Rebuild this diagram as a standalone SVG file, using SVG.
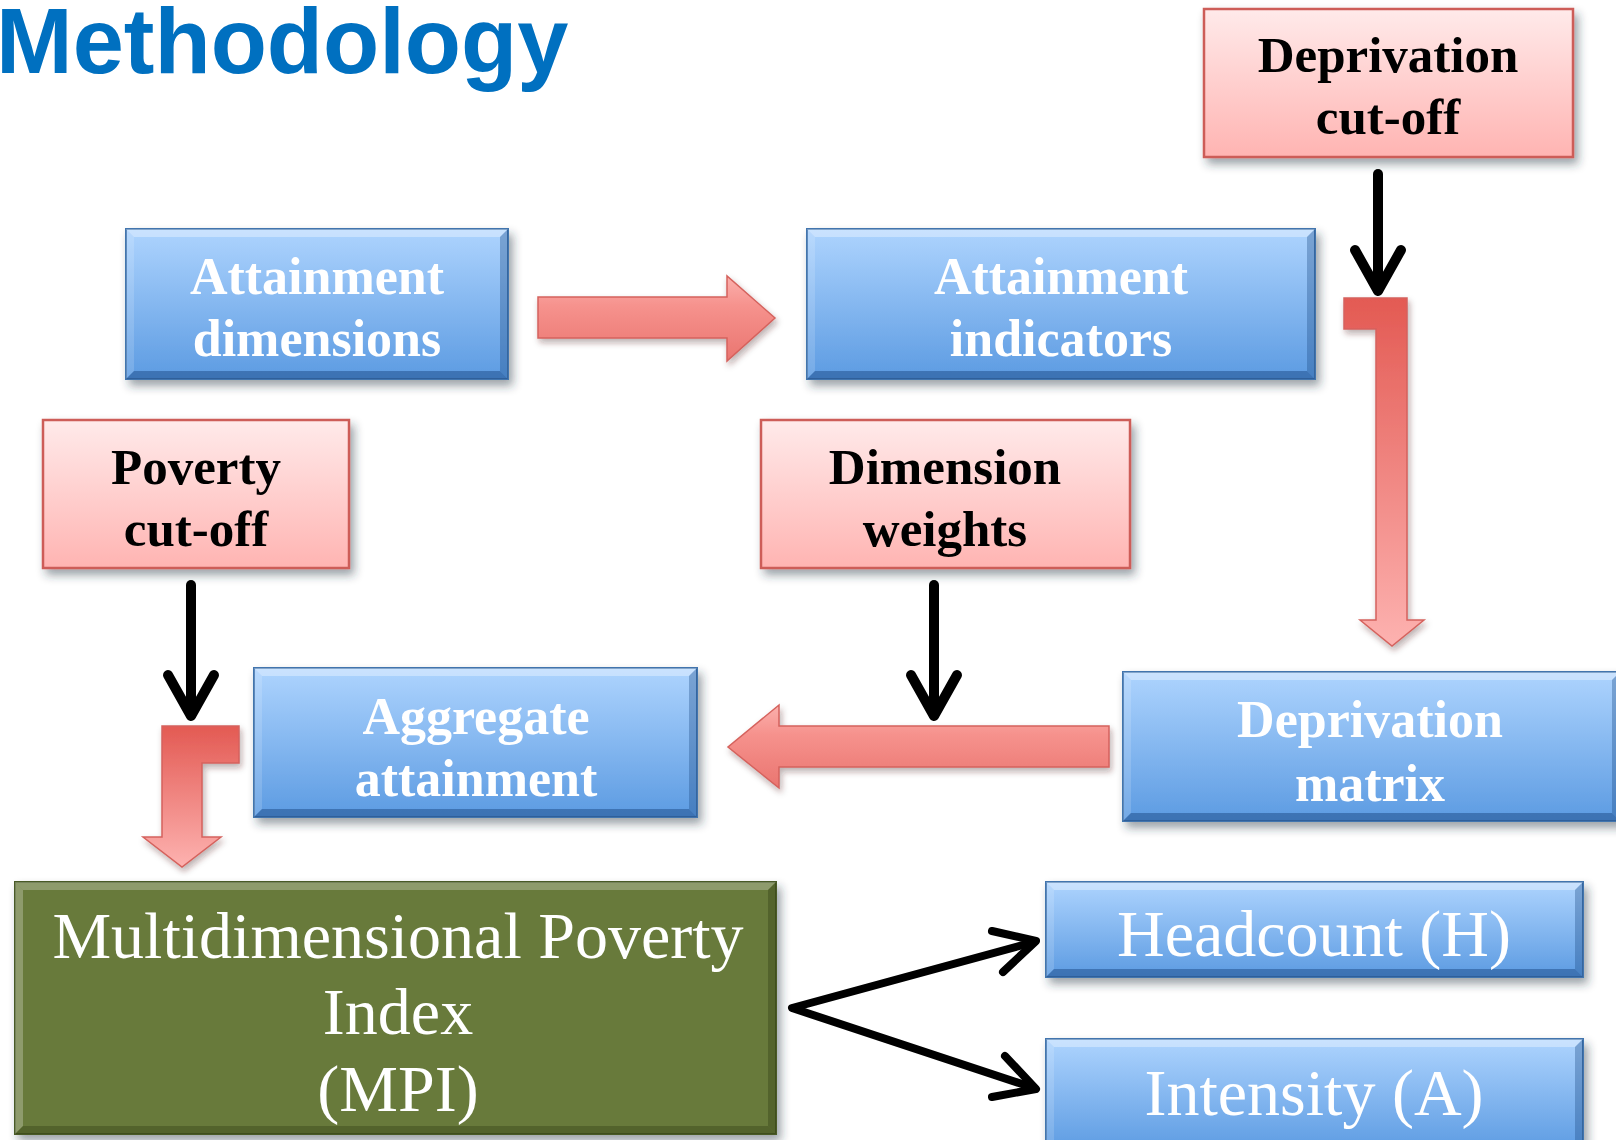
<svg xmlns="http://www.w3.org/2000/svg" width="1616" height="1140" viewBox="0 0 1616 1140">
<defs>
<filter id="sh" x="-10%" y="-10%" width="125%" height="130%">
<feDropShadow dx="4" dy="6" stdDeviation="5" flood-color="#203040" flood-opacity="0.45"/>
</filter>
<filter id="sha" x="-10%" y="-10%" width="125%" height="130%">
<feDropShadow dx="2" dy="4" stdDeviation="3" flood-color="#402020" flood-opacity="0.35"/>
</filter>
<linearGradient id="blueG" x1="0" y1="0" x2="0" y2="1">
<stop offset="0" stop-color="#AED4FE"/>
<stop offset="1" stop-color="#5C9BE2"/>
</linearGradient>
<linearGradient id="pinkG" x1="0" y1="0" x2="0" y2="1">
<stop offset="0" stop-color="#FFEAEA"/>
<stop offset="1" stop-color="#FFB4B2"/>
</linearGradient>
<linearGradient id="redV" x1="0" y1="0" x2="0" y2="1">
<stop offset="0" stop-color="#E35A53"/>
<stop offset="1" stop-color="#FDB2B0"/>
</linearGradient>
<linearGradient id="redH" x1="0" y1="0" x2="0" y2="1">
<stop offset="0" stop-color="#FBB0AD"/>
<stop offset="0.35" stop-color="#F6928D"/>
<stop offset="1" stop-color="#EA7570"/>
</linearGradient>
</defs>
<style>
.blue{fill:url(#blueG);stroke:#4374AE;stroke-width:2}
.pink{fill:url(#pinkG);stroke:#CD5D59;stroke-width:2.5}
.green{fill:#677A3A;stroke:#4A5A28;stroke-width:2}
.hi{fill:#FFFFFF;opacity:0.35}
.hl{fill:#FFFFFF;opacity:0.15}
.dk{fill:#1C4A85;opacity:0.35}
.db{fill:#1C4A85;opacity:0.5}
.gdk{fill:#2E3A12;opacity:0.35}
.ghi{fill:#FFFFFF;opacity:0.25}
.wt{font-family:"Liberation Serif",serif;font-weight:bold;font-size:52px;fill:#FFFFFF;text-anchor:middle}
.bt{font-family:"Liberation Serif",serif;font-weight:bold;font-size:51px;fill:#000000;text-anchor:middle}
.wr{font-family:"Liberation Serif",serif;font-size:66px;fill:#FFFFFF;text-anchor:middle}
.blk{fill:none;stroke:#000000;stroke-width:10;stroke-linecap:round;stroke-linejoin:round}
.blk2{fill:none;stroke:#000000;stroke-width:8;stroke-linecap:round;stroke-linejoin:round}
.ra{stroke:#D5625D;stroke-width:1.5;filter:url(#sha)}
</style>
<rect x="0" y="0" width="1616" height="1140" fill="#FFFFFF"/>
<text x="-4" y="73" font-family="Liberation Sans, Arial, sans-serif" font-weight="bold" font-size="92" fill="#0070C0">Methodology</text>

<g id="deprivation-cutoff" transform="translate(1204,9)">
<rect class="pink" width="369" height="148" filter="url(#sh)"/>
<text class="bt" x="184" y="63">Deprivation</text>
<text class="bt" x="184" y="125">cut-off</text>
</g>

<g id="attainment-dimensions" transform="translate(126,229)">
<rect class="blue" width="382" height="150" filter="url(#sh)"/>
<polygon class="hi" points="0,0 382,0 374,8 8,8"/>
<polygon class="hl" points="0,0 8,8 8,142 0,150"/>
<polygon class="dk" points="382,0 382,150 374,142 374,8"/>
<polygon class="db" points="0,150 382,150 374,142 8,142"/>
<text class="wt" x="191" y="65">Attainment</text>
<text class="wt" x="191" y="127">dimensions</text>
</g>

<g id="attainment-indicators" transform="translate(807,229)">
<rect class="blue" width="508" height="150" filter="url(#sh)"/>
<polygon class="hi" points="0,0 508,0 500,8 8,8"/>
<polygon class="hl" points="0,0 8,8 8,142 0,150"/>
<polygon class="dk" points="508,0 508,150 500,142 500,8"/>
<polygon class="db" points="0,150 508,150 500,142 8,142"/>
<text class="wt" x="254" y="65">Attainment</text>
<text class="wt" x="254" y="127">indicators</text>
</g>

<g id="poverty-cutoff" transform="translate(43,420)">
<rect class="pink" width="306" height="148" filter="url(#sh)"/>
<text class="bt" x="153" y="64">Poverty</text>
<text class="bt" x="153" y="126">cut-off</text>
</g>

<g id="dimension-weights" transform="translate(761,420)">
<rect class="pink" width="369" height="148" filter="url(#sh)"/>
<text class="bt" x="184" y="64">Dimension</text>
<text class="bt" x="184" y="126">weights</text>
</g>

<g id="aggregate-attainment" transform="translate(254,668)">
<rect class="blue" width="443" height="149" filter="url(#sh)"/>
<polygon class="hi" points="0,0 443,0 435,8 8,8"/>
<polygon class="hl" points="0,0 8,8 8,141 0,149"/>
<polygon class="dk" points="443,0 443,149 435,141 435,8"/>
<polygon class="db" points="0,149 443,149 435,141 8,141"/>
<text class="wt" x="222" y="66">Aggregate</text>
<text class="wt" x="222" y="128">attainment</text>
</g>

<g id="deprivation-matrix" transform="translate(1123,672)">
<rect class="blue" width="497" height="149" filter="url(#sh)"/>
<polygon class="hi" points="0,0 497,0 489,8 8,8"/>
<polygon class="hl" points="0,0 8,8 8,141 0,149"/>
<polygon class="dk" points="497,0 497,149 489,141 489,8"/>
<polygon class="db" points="0,149 497,149 489,141 8,141"/>
<text class="wt" x="247" y="65">Deprivation</text>
<text class="wt" x="247" y="129">matrix</text>
</g>

<g id="mpi" transform="translate(15,882)">
<rect class="green" width="761" height="252" filter="url(#sh)"/>
<polygon class="ghi" points="0,0 761,0 753,8 8,8"/>
<polygon class="ghi" points="0,0 8,8 8,244 0,252" opacity="0.1"/>
<polygon class="gdk" points="761,0 761,252 753,244 753,8"/>
<polygon class="gdk" points="0,252 761,252 753,244 8,244"/>
<text class="wr" x="383" y="76">Multidimensional Poverty</text>
<text class="wr" x="383" y="152">Index</text>
<text class="wr" x="383" y="229">(MPI)</text>
</g>

<g id="headcount" transform="translate(1046,882)">
<rect class="blue" width="537" height="95" filter="url(#sh)"/>
<polygon class="hi" points="0,0 537,0 529,8 8,8"/>
<polygon class="hl" points="0,0 8,8 8,87 0,95"/>
<polygon class="dk" points="537,0 537,95 529,87 529,8"/>
<polygon class="db" points="0,95 537,95 529,87 8,87"/>
<text class="wr" x="268" y="74">Headcount (H)</text>
</g>

<g id="intensity" transform="translate(1046,1039)">
<rect class="blue" width="537" height="112" filter="url(#sh)"/>
<polygon class="hi" points="0,0 537,0 529,8 8,8"/>
<polygon class="hl" points="0,0 8,8 8,104 0,112"/>
<polygon class="dk" points="537,0 537,112 529,104 529,8"/>
<text class="wr" x="268" y="76">Intensity (A)</text>
</g>

<g id="connectors">
<polygon class="ra" fill="url(#redH)" points="538,297 727,297 727,276 775,318 727,361 727,338 538,338"/>
<polygon class="ra" fill="url(#redH)" points="1109,726 779,726 779,705 728,747 779,788 779,767 1109,767"/>
<polygon class="ra" fill="url(#redV)" points="1344,298 1407,298 1407,620 1424,620 1392,646 1360,620 1376,620 1376,329 1344,329"/>
<polygon class="ra" fill="url(#redV)" points="239,726 162,726 162,837 143,837 182,867 221,837 202,837 202,763 239,763"/>
<line class="blk" x1="1378" y1="174" x2="1378" y2="290"/>
<polyline class="blk" points="1355,250 1378,291 1401,250"/>
<line class="blk" x1="191" y1="585" x2="191" y2="715"/>
<polyline class="blk" points="168,675 191,716 214,675"/>
<line class="blk" x1="934" y1="585" x2="934" y2="715"/>
<polyline class="blk" points="911,675 934,716 957,675"/>
<polyline class="blk2" points="1034,942 792,1008 1034,1088"/>
<polyline class="blk2" points="992,931 1036,941 1003,972"/>
<polyline class="blk2" points="1005,1056 1036,1089 992,1097"/>
</g>
</svg>
